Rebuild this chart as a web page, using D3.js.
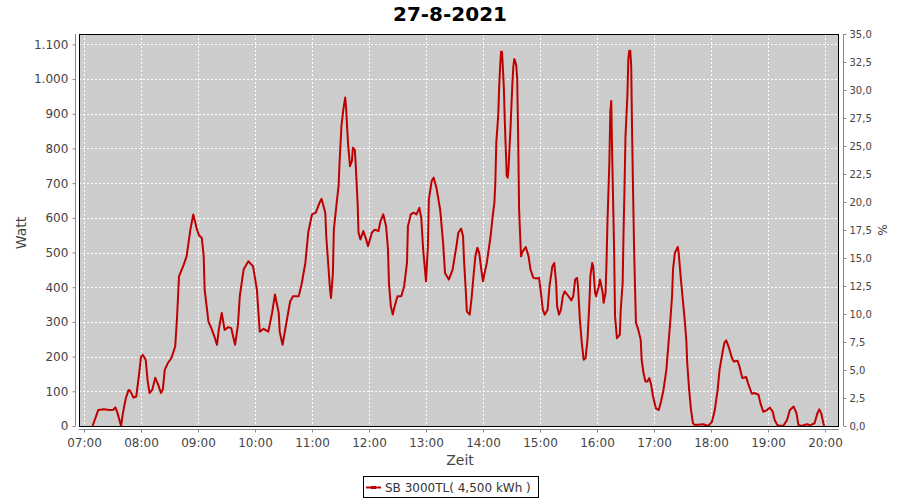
<!DOCTYPE html>
<html>
<head>
<meta charset="utf-8">
<script src="https://cdn.jsdelivr.net/npm/d3@7"></script>
<style>
  html, body { margin: 0; padding: 0; background: #fff; }
  svg { display: block; font-family: "DejaVu Sans", sans-serif; }
</style>
</head>
<body>
<svg id="chart" width="900" height="500"></svg>
<script>
const title = "27-8-2021";
const seriesName = "SB 3000TL( 4,500 kWh )";
const xLabel = "Zeit";
const yLabel = "Watt";
const y2Label = "%";

const times = ["07:09","07:15","07:21","07:27","07:31","07:33","07:35","07:39","07:41","07:44","07:47","07:49","07:52","07:55","07:58","08:00","08:02","08:05","08:07","08:09","08:12","08:15","08:18","08:21","08:23","08:25","08:28","08:32","08:36","08:38","08:40","08:45","08:48","08:52","08:55","08:59","09:01","09:04","09:06","09:07","09:11","09:14","09:17","09:20","09:22","09:25","09:28","09:32","09:35","09:39","09:42","09:44","09:48","09:53","09:58","10:02","10:05","10:09","10:14","10:18","10:21","10:25","10:26","10:29","10:33","10:37","10:40","10:46","10:49","10:53","10:56","11:00","11:04","11:08","11:10","11:14","11:15","11:17","11:19","11:20","11:22","11:23","11:26","11:28","11:29","11:31","11:33","11:35","11:36","11:37","11:38","11:40","11:42","11:43","11:45","11:46","11:48","11:49","11:51","11:54","11:57","11:59","12:03","12:06","12:10","12:12","12:15","12:18","12:20","12:21","12:23","12:25","12:27","12:30","12:34","12:37","12:40","12:41","12:44","12:47","12:50","12:53","12:55","12:57","13:00","13:02","13:03","13:06","13:08","13:11","13:15","13:18","13:20","13:24","13:28","13:32","13:34","13:37","13:39","13:40","13:42","13:43","13:46","13:48","13:50","13:52","13:54","13:56","13:58","14:00","14:01","14:04","14:06","14:08","14:10","14:12","14:13","14:14","14:16","14:17","14:18","14:19","14:20","14:21","14:22","14:23","14:24","14:25","14:26","14:27","14:28","14:29","14:30","14:31","14:32","14:33","14:34","14:35","14:36","14:37","14:38","14:39","14:40","14:42","14:45","14:48","14:50","14:53","14:56","14:59","15:01","15:03","15:05","15:08","15:10","15:13","15:15","15:17","15:18","15:20","15:22","15:24","15:26","15:30","15:33","15:35","15:37","15:39","15:40","15:42","15:44","15:46","15:48","15:50","15:52","15:53","15:55","15:56","15:58","15:59","16:00","16:02","16:03","16:04","16:06","16:07","16:09","16:10","16:11","16:13","16:14","16:15","16:16","16:17","16:18","16:19","16:21","16:24","16:25","16:27","16:28","16:29","16:30","16:32","16:33","16:34","16:35","16:36","16:37","16:38","16:39","16:40","16:41","16:43","16:46","16:47","16:49","16:51","16:53","16:55","16:57","16:59","17:02","17:05","17:07","17:10","17:13","17:15","17:17","17:19","17:20","17:22","17:25","17:26","17:28","17:30","17:32","17:34","17:35","17:37","17:39","17:41","17:43","17:52","17:57","18:01","18:04","18:07","18:09","18:12","18:14","18:16","18:19","18:22","18:24","18:28","18:30","18:33","18:37","18:39","18:43","18:46","18:50","18:52","18:55","18:59","19:02","19:05","19:07","19:10","19:16","19:20","19:23","19:27","19:30","19:32","19:35","19:41","19:44","19:49","19:52","19:54","19:56","19:59"];

const watts = [0,46,48,46,47,54,40,0,37,80,104,100,82,85,150,200,205,190,130,95,105,139,120,95,105,162,180,196,229,316,431,465,489,566,610,566,550,542,490,393,301,282,260,234,280,326,277,285,282,234,290,374,451,475,460,393,272,280,272,326,379,326,272,234,297,359,374,374,408,470,557,610,615,644,655,615,547,470,393,369,441,566,644,692,759,865,913,947,913,860,812,749,764,802,797,754,644,557,538,562,538,518,557,566,562,590,610,576,509,412,345,321,345,374,374,403,470,576,610,615,610,629,600,509,417,518,653,706,716,687,622,528,441,422,451,518,557,569,547,480,384,330,321,369,432,489,514,499,456,417,432,470,509,547,600,644,701,817,894,976,1034,1079,1079,1029,971,875,798,721,716,749,807,860,928,991,1039,1058,1050,1039,1000,836,624,557,489,504,516,489,451,427,425,427,384,335,321,335,403,460,470,412,345,321,335,374,388,374,362,374,422,427,403,306,239,191,196,249,355,432,470,460,384,374,384,403,422,412,384,355,384,470,586,759,904,937,778,644,509,316,253,263,335,412,566,692,836,952,1058,1082,1082,1039,836,673,518,403,297,282,249,191,152,128,128,138,119,85,51,46,66,104,162,229,297,374,451,499,516,499,432,374,316,249,181,104,46,8,3,5,0,12,46,104,162,210,239,247,225,196,186,188,171,138,141,123,93,95,90,66,41,46,53,41,17,2,0,17,46,56,37,3,0,5,2,8,37,48,37,0];

const xTicks = ["07:00","08:00","09:00","10:00","11:00","12:00","13:00","14:00","15:00","16:00","17:00","18:00","19:00","20:00"];
const yTicks = [0,100,200,300,400,500,600,700,800,900,1000,1100];
const y2Ticks = [0,2.5,5,7.5,10,12.5,15,17.5,20,22.5,25,27.5,30,32.5,35];

const parseT = d3.timeParse("%H:%M");
const data = times.map((t, i) => ({ t: parseT(t), v: watts[i] }));

const svg = d3.select("#chart");
const L = 79, R = 839, T = 34, B = 426;

const x = d3.scaleTime().domain([parseT("07:00"), parseT("20:00")]).range([84, 825]);
const y = d3.scaleLinear().domain([0, 1130]).range([B, T]);
const y2 = d3.scaleLinear().domain([0, 35]).range([B, T]);

const de = d3.formatLocale({ decimal: ",", thousands: ".", grouping: [3], currency: ["", "€"] });
const fmtY = de.format(",d");
const fmtY2 = de.format(".1f");
const fmtX = d3.timeFormat("%H:%M");

// plot background
svg.append("rect").attr("x", L).attr("y", T).attr("width", R - L).attr("height", B - T)
  .attr("fill", "#cccccc");

// gridlines
const grid = svg.append("g");
grid.selectAll("line.h").data(yTicks).enter().append("line")
  .attr("x1", L).attr("x2", R)
  .attr("y1", d => Math.round(y(d)) + 0.5).attr("y2", d => Math.round(y(d)) + 0.5)
  .attr("stroke", "#fff").attr("stroke-width", 1).attr("stroke-dasharray", "2,2");
grid.selectAll("line.v").data(xTicks.map(parseT)).enter().append("line")
  .attr("y1", T).attr("y2", B)
  .attr("x1", d => Math.round(x(d)) + 0.5).attr("x2", d => Math.round(x(d)) + 0.5)
  .attr("stroke", "#fff").attr("stroke-width", 1).attr("stroke-dasharray", "2,2");

// clip
svg.append("clipPath").attr("id", "clip").append("rect")
  .attr("x", L).attr("y", T).attr("width", R - L).attr("height", B - T + 1);

const line = d3.line().x(d => x(d.t)).y(d => y(d.v));
svg.append("path").datum(data).attr("clip-path", "url(#clip)")
  .attr("d", line).attr("fill", "none").attr("stroke", "#c00000")
  .attr("stroke-width", 2).attr("stroke-linejoin", "round");

// plot border
svg.append("rect").attr("x", L + 0.5).attr("y", T + 0.5).attr("width", R - L - 1).attr("height", B - T)
  .attr("fill", "none").attr("stroke", "#000").attr("stroke-width", 1);

// axes
const axisColor = "#888";
const textColor = "#444";

const gx = svg.append("g").attr("transform", `translate(0,${B + 3.5})`)
  .call(d3.axisBottom(x).tickValues(xTicks.map(parseT)).tickFormat(fmtX).tickSize(3).tickSizeOuter(0));
gx.select(".domain").attr("d", `M${L},0H${R}`);

const gy = svg.append("g").attr("transform", `translate(${L - 3.5},0)`)
  .call(d3.axisLeft(y).tickValues(yTicks).tickFormat(fmtY).tickSize(3).tickSizeOuter(0));
gy.select(".domain").attr("d", `M0,${T}V${B}`);

const gy2 = svg.append("g").attr("transform", `translate(${R + 4.5},0)`)
  .call(d3.axisRight(y2).tickValues(y2Ticks).tickFormat(fmtY2).tickSize(3).tickSizeOuter(0));
gy2.select(".domain").attr("d", `M0,${T}V${B}`);

[gx, gy, gy2].forEach(g => {
  g.select(".domain").attr("stroke", axisColor);
  g.selectAll(".tick line").attr("stroke", axisColor);
  g.selectAll(".tick text").attr("fill", textColor).attr("font-family", "DejaVu Sans, sans-serif");
});
gx.selectAll(".tick text").attr("font-size", 12).attr("dy", "0.95em");
gy.selectAll(".tick text").attr("font-size", 12).attr("dx", "-0.1em");
gy2.selectAll(".tick text").attr("font-size", 10);

// title
svg.append("text").attr("x", 450).attr("y", 21).attr("text-anchor", "middle")
  .attr("font-size", 20).attr("font-weight", "bold").attr("fill", "#000").text(title);

// axis labels
svg.append("text").attr("x", 460).attr("y", 465).attr("text-anchor", "middle")
  .attr("font-size", 14).attr("fill", textColor).text(xLabel);
svg.append("text").attr("transform", `translate(26,${(T + B) / 2 + 3}) rotate(-90)`)
  .attr("text-anchor", "middle").attr("font-size", 14).attr("fill", textColor).text(yLabel);
svg.append("text").attr("transform", `translate(878,${(T + B) / 2}) rotate(90)`)
  .attr("text-anchor", "middle").attr("font-size", 12).attr("fill", textColor).text(y2Label);

// legend
const lg = svg.append("g");
lg.append("rect").attr("x", 363.5).attr("y", 476.5).attr("width", 175).attr("height", 21)
  .attr("fill", "#fff").attr("stroke", "#000").attr("stroke-width", 1);
lg.append("line").attr("x1", 366).attr("x2", 381).attr("y1", 487.5).attr("y2", 487.5)
  .attr("stroke", "#c00000").attr("stroke-width", 2);
lg.append("rect").attr("x", 371).attr("y", 486).attr("width", 5).attr("height", 3).attr("fill", "#c00000");
lg.append("text").attr("x", 385).attr("y", 492).attr("font-size", 12).attr("fill", "#333").text(seriesName);
</script>
</body>
</html>
